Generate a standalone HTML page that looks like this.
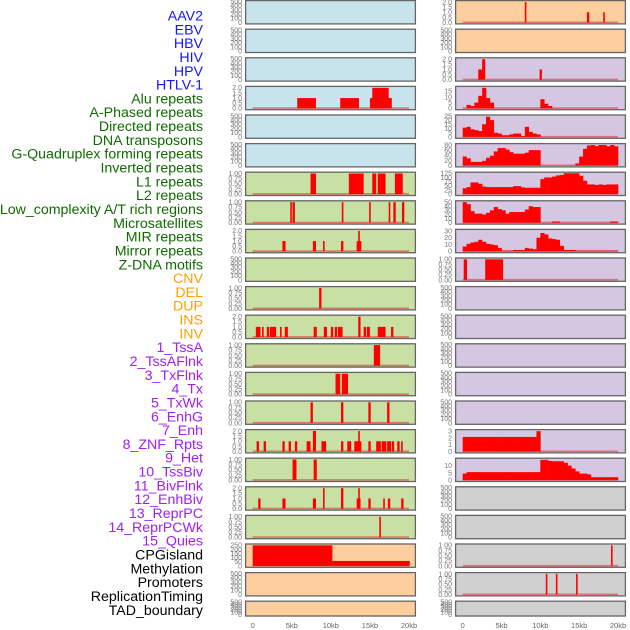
<!DOCTYPE html>
<html><head><meta charset="utf-8"><style>
html,body{margin:0;padding:0;background:#fff;}
svg{display:block;font-family:"Liberation Sans",sans-serif;}
</style></head><body>
<svg id="chart" width="630" height="630" viewBox="0 0 630 630" xmlns="http://www.w3.org/2000/svg">
<g id="labels"></g>
<g id="panels"></g>
<g id="xaxes"></g>
</svg>
<script>
// ---- track labels ----
const labelNames = ["AAV2","EBV","HBV","HIV","HPV","HTLV-1","Alu repeats","A-Phased repeats","Directed repeats","DNA transposons","G-Quadruplex forming repeats","Inverted repeats","L1 repeats","L2 repeats","Low_complexity A/T rich regions","Microsatellites","MIR repeats","Mirror repeats","Z-DNA motifs","CNV","DEL","DUP","INS","INV","1_TssA","2_TssAFlnk","3_TxFlnk","4_Tx","5_TxWk","6_EnhG","7_Enh","8_ZNF_Rpts","9_Het","10_TssBiv","11_BivFlnk","12_EnhBiv","13_ReprPC","14_ReprPCWk","15_Quies","CPGisland","Methylation","Promoters","ReplicationTiming","TAD_boundary"];
const labelGroups = ["v","v","v","v","v","v","r","r","r","r","r","r","r","r","r","r","r","r","r","s","s","s","s","s","c","c","c","c","c","c","c","c","c","c","c","c","c","c","c","o","o","o","o","o"];

// ---- x axis ----
const xTicks = [0,5,10,15,20];
const xTickLabels = ["0","5kb","10kb","15kb","20kb"];

// ---- column A interval data [startKb, endKb, value] ----
const A3 = [[5.7,8.1,1],[11.2,13.6,1],[15.0,17.8,1],[15.3,17.4,2]];
const A6 = [[7.4,8.1,1],[12.3,14.2,1],[15.3,15.8,1],[16.0,17.0,1],[18.2,19.2,1]];
const A7 = [[4.8,5.0,1],[5.1,5.4,1],[11.4,11.6,1],[14.9,15.1,1],[17.4,17.6,1],[18.0,18.3,1],[19.1,19.4,1]];
const A8 = [[3.8,4.2,1],[7.7,8.1,1],[9.0,9.2,1],[11.3,11.6,1],[13.3,13.9,1],[13.5,13.7,2]];
const A10 = [[8.5,8.8,1]];
const A11 = [[0.4,1.0,1],[1.2,1.4,1],[1.8,2.1,1],[2.2,3.0,1],[3.5,3.7,1],[4.1,4.5,1],[7.8,8.2,1],[9.1,9.5,1],[10.0,10.3,1],[10.5,10.8,1],[10.9,11.5,1],[13.5,13.8,2],[14.2,14.5,1],[14.6,15.0,1],[16.0,17.0,1],[17.7,18.0,1]];
const A12 = [[15.5,16.3,1]];
const A13 = [[10.6,11.2,1],[11.4,12.2,1]];
const A14 = [[7.4,7.7,1],[11.3,11.6,1],[14.8,15.1,1],[17.2,17.5,1]];
const A15 = [[0.5,0.8,1],[1.4,1.7,1],[3.8,4.1,1],[4.6,4.9,1],[5.4,5.7,1],[6.9,7.4,1],[7.7,8.1,2],[8.8,9.4,1],[11.3,11.6,1],[12.1,12.6,1],[13.0,13.9,1],[13.5,13.6,2],[14.8,15.1,1],[15.8,16.4,1],[16.5,17.1,1],[17.2,17.7,1],[17.8,18.1,1],[18.5,18.8,1],[19.0,19.2,1]];
const A16 = [[5.1,5.6,1],[7.8,8.2,1]];
const A17 = [[0.7,1.0,1],[3.8,4.2,1],[7.7,8.1,1],[9.0,9.2,2],[11.3,11.6,2],[13.3,13.8,1],[13.5,13.7,2],[14.8,15.1,1],[16.7,16.9,1],[17.3,17.6,1],[19.0,19.3,1]];
const A18 = [[16.2,16.4,1]];
const A19 = [[0,10.2,250],[10.2,20.1,60]];

// ---- column B interval data ----
const B0 = [[8.0,8.1,2],[16.0,16.3,1],[18.1,18.3,1]];
const B2 = [[2.0,2.6,1],[2.5,2.9,2],[9.9,10.2,1]];
const B9 = [[0.13,0.56,1],[2.9,5.2,1]];
const B18 = [[19.1,19.3,1]];
const B19 = [[10.7,10.9,1],[12.0,12.2,1],[14.6,14.8,1]];

// ---- column B binned data (0.5kb bins, 0-20kb) ----
const B3 = [0,3,2,5,11,18,9,5,0,0,0,0,0,0,0,0,0,0,0,0,8,4,2,0,0,0,0,0,0,0,0,0,0,0,0,0,0,0,0,0];
const B4 = [11,12,9,8,7,15,24,20,5,4,2,2,3,4,4,1,12,6,4,3,0,0,0,0,0,0,0,0,0,0,0,0,0,0,0,0,0,0,0,0];
const B5 = [35,28,14,14,14,18,30,38,55,68,68,62,52,46,46,46,50,60,60,60,0,0,0,0,0,0,0,0,0,8,35,65,78,80,76,80,80,75,80,75];
const B6 = [35,42,70,70,62,45,42,42,42,42,42,42,42,48,48,40,38,38,38,38,90,100,100,105,112,115,125,125,125,125,110,80,58,58,55,58,55,58,58,58];
const B7 = [50,45,28,22,22,20,24,30,38,33,30,22,26,26,26,26,32,40,38,38,0,0,0,3,3,0,0,0,0,0,0,0,0,0,0,0,0,0,3,3];
const B8 = [7,11,13,14,17,14,11,10,9,5,1,1,1,2,2,2,5,4,3,20,27,25,19,18,17,8,2,2,2,1,1,1,1,1,1,1,1,1,1,1];
const B15 = [2.15,2.15,2.15,2.15,2.15,2.15,2.15,2.15,2.15,2.15,2.15,2.15,2.15,2.15,2.15,2.15,2.15,2.15,2.15,3,0,0,0,0,0,0,0,0,0,0,0,0,0,0,0,0,0,0,0,0];
const B16 = [4.5,5.5,5.5,5.5,5.5,5.5,5.5,5.5,5.5,5.5,5.5,5.5,5.5,5.5,5.5,5.5,5.5,5.5,5.5,5.5,14,14,13.2,13,13,13,12,10,8,6,4.5,4.5,4,2,2,2,2,2,2,2];

// ---- tick sets ----
const tEmpty = [0,100,200,300,400,500];
const t1 = [0,0.25,0.5,0.75,1];
const t2 = [0,0.5,1,1.5,2];

const COL = {A:{x0:245,x1:416,k0:252.7,k1:409},B:{x0:455,x1:626,k0:462.7,k1:618}};
const BG = {blue:"#c7e3eb",green:"#c8e0a3",orange:"#fecf9e",purple:"#d5c6e2",gray:"#d0d0d0"};

function rowTop(r){return r*28.6;}
function rowH(r){return r===21?16:24.5;}

function panel(col,row,bg,ticks,ymax,dec,data,kind){return {col,row,bg,ticks,ymax,dec,data,kind};}
const panels = [];
for(let r=0;r<22;r++){
  const bg = r<6?"blue":(r<19?"green":"orange");
  panels.push(panel("A",r,bg,tEmpty,500,0,null,null));
}
function setP(col,row,ticks,ymax,dec,data,kind){
  const p = panels.find(q=>q.col===col&&q.row===row);
  p.ticks=ticks;p.ymax=ymax;p.dec=dec;p.data=data;p.kind=kind;
}
for(let r=0;r<22;r++){
  const bg = r<2?"orange":(r<17?"purple":"gray");
  panels.push(panel("B",r,bg,tEmpty,500,0,null,null));
}
setP("A",3,t2,2.05,1,A3,"iv");
setP("A",6,t1,1.02,2,A6,"iv");
setP("A",7,t1,1.02,2,A7,"iv");
setP("A",8,t2,2.05,1,A8,"iv");
setP("A",10,t1,1.02,2,A10,"iv");
setP("A",11,t2,2.05,1,A11,"iv");
setP("A",12,t1,1.02,2,A12,"iv");
setP("A",13,t1,1.02,2,A13,"iv");
setP("A",14,t1,1.02,2,A14,"iv");
setP("A",15,t2,2.05,1,A15,"iv");
setP("A",16,t1,1.02,2,A16,"iv");
setP("A",17,t2,2.05,1,A17,"iv");
setP("A",18,t1,1.02,2,A18,"iv");
setP("A",19,[0,50,100,150,200,250],255,0,A19,"iv");
setP("B",0,t2,2.05,1,B0,"iv");
setP("B",2,t2,2.05,1,B2,"iv");
setP("B",3,[0,5,10,15],18.5,0,B3,"bin");
setP("B",4,[0,5,10,15,20,25],25,0,B4,"bin");
setP("B",5,[0,20,40,60,80],82,0,B5,"bin");
setP("B",6,[0,25,50,75,100,125],126,0,B6,"bin");
setP("B",7,[0,10,20,30,40,50],51,0,B7,"bin");
setP("B",8,[0,10,20,30],31,0,B8,"bin");
setP("B",9,t1,1.02,2,B9,"iv");
setP("B",15,[0,1,2,3],3.1,0,B15,"bin");
setP("B",16,[0,5,10],14.5,0,B16,"bin");
setP("B",19,t1,1.02,2,B18,"iv");
setP("B",20,t1,1.02,2,B19,"iv");

const NS="http://www.w3.org/2000/svg";
function mk(tag,attrs,parent){const e=document.createElementNS(NS,tag);for(const k in attrs)e.setAttribute(k,attrs[k]);parent.appendChild(e);return e;}

const gl=document.getElementById("labels");
const gColors={v:"#1414ff",r:"#0f6a00",s:"#ffa000",c:"#a020f0",o:"#000000"};
labelNames.forEach((n,i)=>{
  const t=mk("text",{x:203,y:20.5+i*13.82,"text-anchor":"end","font-size":"14.2",fill:gColors[labelGroups[i]]},gl);
  
  
  t.textContent=n;
});

const gp=document.getElementById("panels");
panels.forEach(p=>{
  const c=COL[p.col];const top=rowTop(p.row);const h=rowH(p.row);
  const g=mk("g",{},gp);
  
  
  const bot=top+h-2, ytop=top+1.5;
  const ys=v=>bot-(v/p.ymax)*(bot-ytop);
  const xs=k=>c.k0+(k/20)*(c.k1-c.k0);
  const bgR=mk("rect",{x:c.x0,y:top,width:c.x1-c.x0,height:h,fill:BG[p.bg]},g);
  
  
  p.ticks.forEach(tv=>{
    const tt=mk("text",{x:c.x0-3,y:ys(tv)+2.4,"text-anchor":"end","font-size":"7",fill:"#777"},g);
    
    
    tt.textContent=tv.toFixed(p.dec);
  });
  if(p.data){
    const bl=mk("rect",{x:xs(0),y:bot-1,width:xs(20)-xs(0),height:1.6,fill:"rgba(220,40,40,0.55)"},g);
    
    
    if(p.kind==="iv"){
      p.data.forEach(d=>{
        const x=xs(d[0]),w=Math.max(1.6,xs(d[1])-xs(d[0]));
        const b=mk("rect",{x:x,y:ys(d[2]),width:w,height:bot-ys(d[2]),fill:"#ff0000"},g);
        
        
      });
    } else {
      p.data.forEach((v,i)=>{
        if(v<=0)return;
        const x=xs(i*0.5),w=xs((i+1)*0.5)-x;
        const b=mk("rect",{x:x,y:ys(v),width:w+0.3,height:bot-ys(v),fill:"#ff0000"},g);
        
        
      });
    }
  }
  const fr=mk("rect",{x:c.x0+0.6,y:top+0.6,width:c.x1-c.x0-1.2,height:h-1.2,fill:"none",stroke:"#666","stroke-width":"1.3"},g);
  
  
});

const gx=document.getElementById("xaxes");
["A","B"].forEach(cn=>{
  const c=COL[cn];
  xTicks.forEach((k,i)=>{
    const t=mk("text",{x:c.k0+(k/20)*(c.k1-c.k0),y:628,"text-anchor":"middle","font-size":"7.5",fill:"#666"},gx);
    
    
    t.textContent=xTickLabels[i];
  });
});
</script>
</body></html>
